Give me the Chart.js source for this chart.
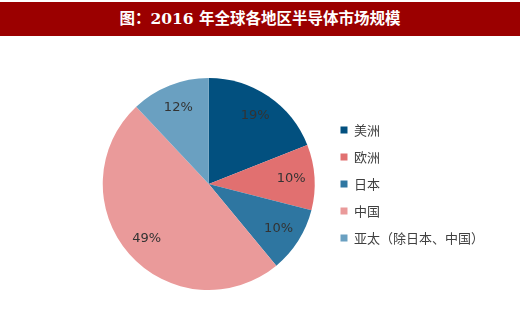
<!DOCTYPE html>
<html><head><meta charset="utf-8">
<script src="https://cdn.jsdelivr.net/npm/chart.js@4"></script>
<style>
html,body{margin:0;padding:0;background:#fff;width:520px;height:320px;overflow:hidden;}
#title{position:absolute;left:0;top:2px;width:520px;height:34px;background:#9b0000;color:#fff;
font:bold 15.5px "DejaVu Serif","Noto Sans CJK SC",serif;line-height:34px;text-align:center;}
#wrap{position:absolute;left:0;top:40px;width:520px;height:280px;}
</style></head><body>
<div id="title">图：2016 年全球各地区半导体市场规模</div>
<div id="wrap"><canvas id="c" width="520" height="280"></canvas></div>
<script>
const categories = ['美洲','欧洲','日本','中国','亚太（除日本、中国）'];
const shares = [19, 10, 10, 49, 12];
const colors = ['#02507f','#e17070','#2e76a1','#ea9a9a','#6aa0c1'];

const labelPlugin = {
  id:'sliceLabels',
  afterDatasetsDraw(chart){
    const ctx = chart.ctx;
    const meta = chart.getDatasetMeta(0);
    ctx.save();
    ctx.font = '13px "DejaVu Sans", sans-serif';
    ctx.fillStyle = '#333';
    ctx.textAlign = 'center';
    ctx.textBaseline = 'middle';
    meta.data.forEach((arc,i)=>{
      const p = arc.getProps(['x','y','startAngle','endAngle','outerRadius']);
      const a = (p.startAngle+p.endAngle)/2;
      const r = p.outerRadius*0.78;
      ctx.fillText(shares[i]+'%', p.x+Math.cos(a)*r, p.y+Math.sin(a)*r);
    });
    ctx.restore();
  }
};

new Chart(document.getElementById('c'),{
  type:'pie',
  data:{labels:categories,datasets:[{data:shares,backgroundColor:colors,borderWidth:0}]},
  options:{
    responsive:false,animation:false,
    layout:{padding:{left:91,right:26,top:38,bottom:30}},
    plugins:{
      tooltip:{enabled:false},
      legend:{position:'right',align:'center',
        labels:{boxWidth:7,boxHeight:7,padding:14,color:'#404040',
          font:{size:13,family:'"Noto Sans CJK SC", sans-serif'}}}
    }
  },
  plugins:[labelPlugin]
});
</script>
</body></html>
